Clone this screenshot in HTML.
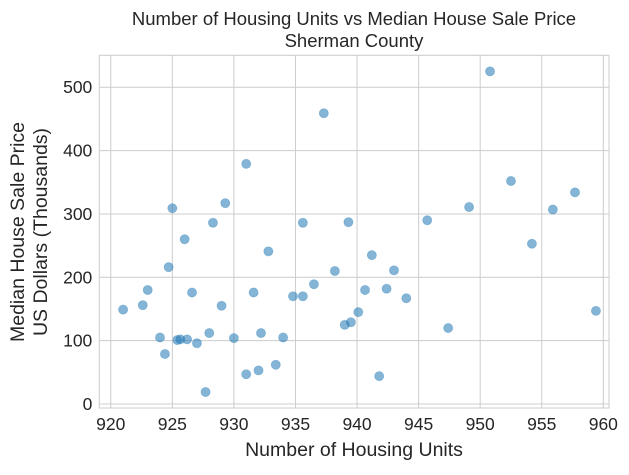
<!DOCTYPE html>
<html><head><meta charset="utf-8"><style>
body{margin:0;background:#fff;}
svg{font-family:"Liberation Sans",Arial,sans-serif;}
</style></head><body>
<svg id="chart" width="629" height="470">
<text x="354" y="25" text-anchor="middle" font-size="18.5" fill="#262626">Number of Housing Units vs Median House Sale Price</text>
<text x="354" y="47" text-anchor="middle" font-size="18.5" fill="#262626">Sherman County</text>
<text x="354" y="456" text-anchor="middle" font-size="19.5" fill="#262626">Number of Housing Units</text>
<text transform="translate(24,232) rotate(-90)" text-anchor="middle" font-size="19.5" fill="#262626">Median House Sale Price</text>
<text transform="translate(47,232) rotate(-90)" text-anchor="middle" font-size="19.5" fill="#262626">US Dollars (Thousands)</text>
<g id="grid"></g><g id="ticks"></g><g id="points"></g>
<rect x="99.3" y="55.3" width="509.7" height="352.7" fill="none" stroke="#ccc" stroke-width="1"/>
</svg>
<script>
const xVals=[921.0,922.6,923.0,924.0,924.4,924.7,925.0,925.4,925.65,926.2,926.0,926.6,927.0,927.7,928.0,928.3,929.0,929.3,930.0,931.0,931.0,931.6,932.0,932.2,932.8,933.4,934.0,934.8,935.6,935.6,936.5,937.3,938.2,939.0,939.3,939.5,940.1,940.65,941.2,941.8,942.4,943.0,944.0,945.7,947.4,949.1,950.8,952.5,954.2,955.9,957.7,959.4];
const yVals=[149,156,180,105,79,216,309,101,102,102,260,176,96,19,112,286,155,317,104,47,379,176,53,112,241,62,105,170,170,286,189,459,210,125,287,129,145,180,235,44,182,211,167,290,120,311,525,352,253,307,334,147];
const xTicks=[920,925,930,935,940,945,950,955,960];
const yTicks=[0,100,200,300,400,500];
const L=99.3,R=609,T=55.3,B=408,xMin=919.07,xMax=960.46,yMin=-6.3,yMax=550.4;
const sx=v=>L+(v-xMin)/(xMax-xMin)*(R-L);
const sy=v=>B-(v-yMin)/(yMax-yMin)*(B-T);
const NS="http://www.w3.org/2000/svg";
const g=document.getElementById('grid'),tk=document.getElementById('ticks'),pg=document.getElementById('points');
function mk(t,a){const e=document.createElementNS(NS,t);for(const k in a)e.setAttribute(k,a[k]);return e;}
xTicks.forEach(v=>{
 const l=mk('line',{x1:sx(v),x2:sx(v),y1:T,y2:B,stroke:'#ccc','stroke-width':1});
 
 
 g.appendChild(l);
 const t=mk('text',{x:sx(v),y:B+22,'text-anchor':'middle','font-size':17.5,fill:'#262626'});
 t.textContent=v;
 
 
 tk.appendChild(t);
});
yTicks.forEach(v=>{
 const l=mk('line',{x1:L,x2:R,y1:sy(v),y2:sy(v),stroke:'#ccc','stroke-width':1});
 
 
 g.appendChild(l);
 const t=mk('text',{x:L-7,y:sy(v)+6,'text-anchor':'end','font-size':17.5,fill:'#262626'});
 t.textContent=v;
 
 
 tk.appendChild(t);
});
xVals.forEach((x,i)=>{
 const c=mk('circle',{cx:sx(x),cy:sy(yVals[i]),r:4.6,fill:'#1f77b4','fill-opacity':0.55,stroke:'#1f77b4','stroke-opacity':0.3,'stroke-width':0.8});
 
 
 pg.appendChild(c);
});
</script>
</body></html>
